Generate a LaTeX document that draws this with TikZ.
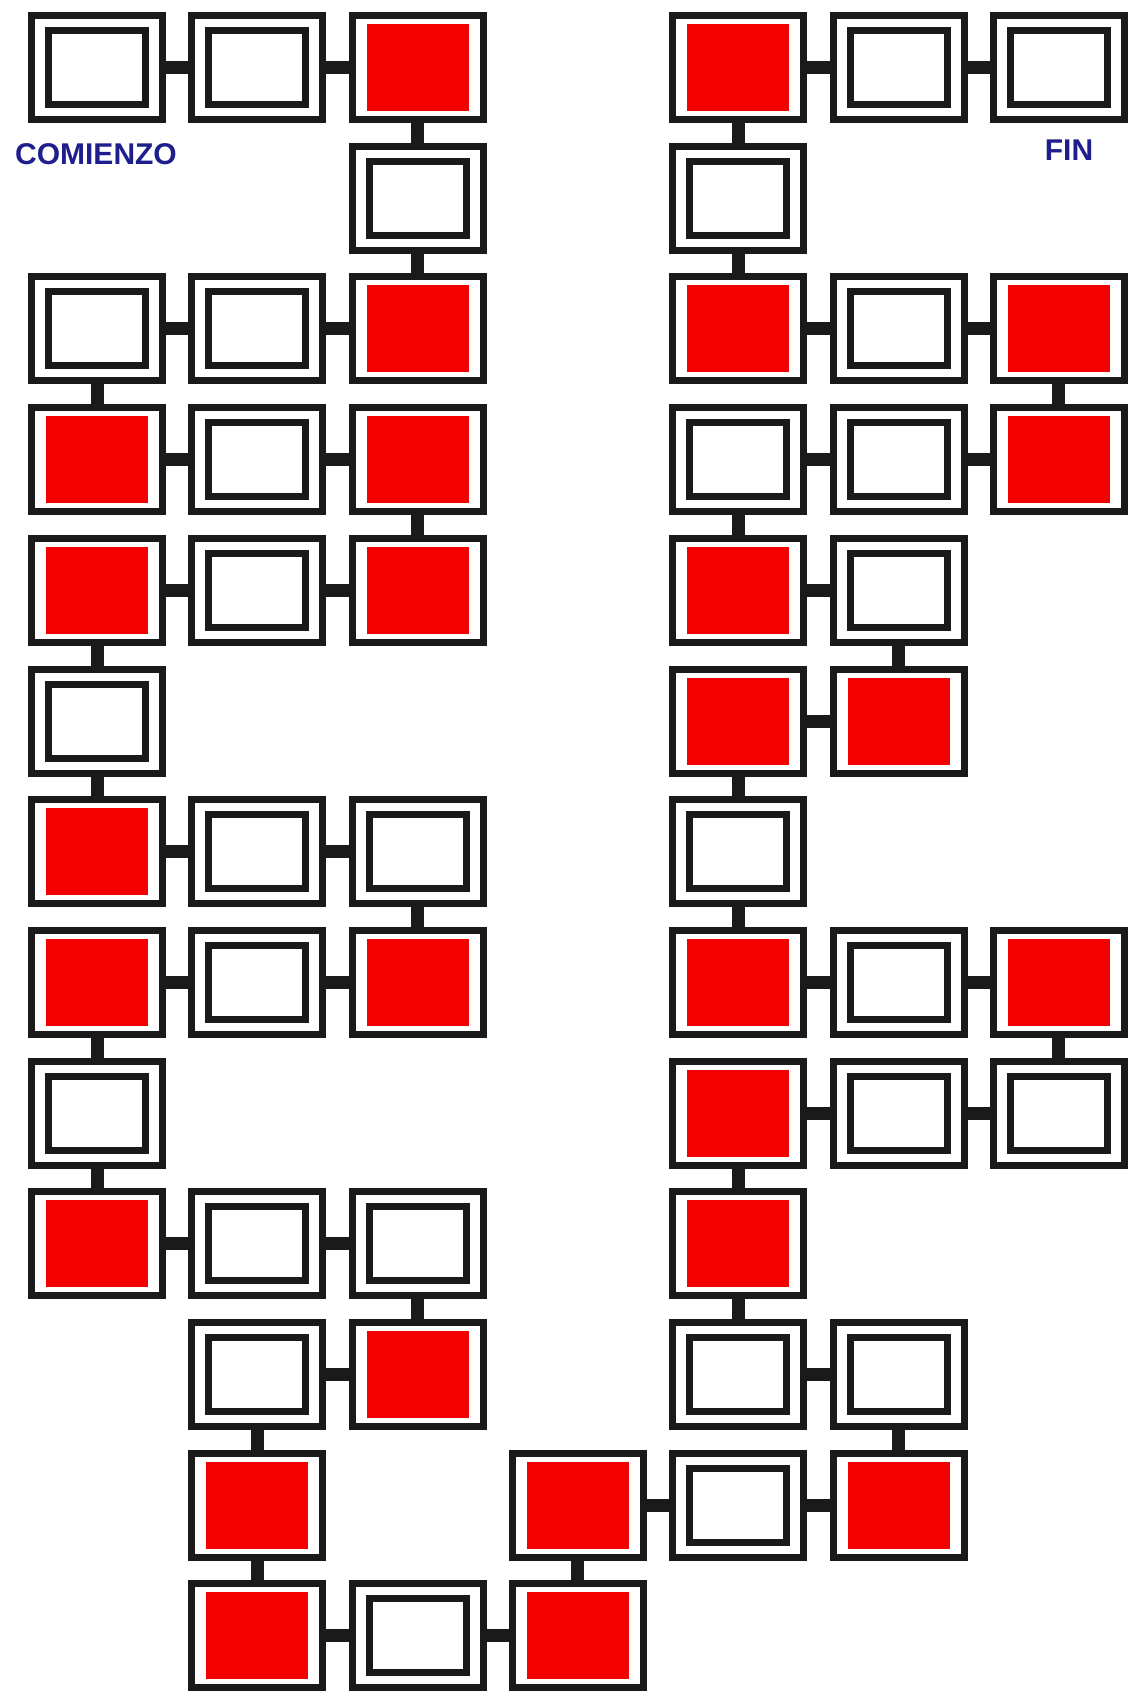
\documentclass[tikz,border=0pt]{standalone}
\usepackage{fontspec}
\setmainfont{Liberation Sans}
\definecolor{frame}{HTML}{1A1A1A}
\definecolor{cellred}{HTML}{F50000}
\definecolor{labelblue}{HTML}{1E1E8C}
\tikzset{
  cell/.style={draw=frame, line width=7pt, minimum width=131pt, minimum height=104pt, inner sep=0pt, fill=white},
  wb/.style={cell, path picture={\draw[frame, line width=7pt] ([xshift=17pt,yshift=15pt]path picture bounding box.south west) rectangle ([xshift=-17pt,yshift=-15pt]path picture bounding box.north east);}},
  rb/.style={cell, path picture={\fill[cellred] ([xshift=14.5pt,yshift=8.5pt]path picture bounding box.south west) rectangle ([xshift=-14.5pt,yshift=-8.5pt]path picture bounding box.north east);}},
  link/.style={draw=frame, line width=13pt},
  lbl/.style={text=labelblue, font=\fontsize{30}{30}\selectfont\bfseries, inner sep=0pt}
}
\begin{document}
\begin{tikzpicture}
\fill[white] (0pt,0pt) rectangle (1128pt,-1697pt);
\useasboundingbox (0pt,0pt) rectangle (1128pt,-1697pt);
\begin{scope}[shift={(97pt,-67.5pt)}, x=160.3pt, y=-130.7pt]
% row 0
\node[wb] (A0) at (0,0) {};
\node[wb] (B0) at (1,0) {};
\node[rb] (C0) at (2,0) {};
\node[rb] (E0) at (4,0) {};
\node[wb] (F0) at (5,0) {};
\node[wb] (G0) at (6,0) {};
% row 1
\node[wb] (C1) at (2,1) {};
\node[wb] (E1) at (4,1) {};
% row 2
\node[wb] (A2) at (0,2) {};
\node[wb] (B2) at (1,2) {};
\node[rb] (C2) at (2,2) {};
\node[rb] (E2) at (4,2) {};
\node[wb] (F2) at (5,2) {};
\node[rb] (G2) at (6,2) {};
% row 3
\node[rb] (A3) at (0,3) {};
\node[wb] (B3) at (1,3) {};
\node[rb] (C3) at (2,3) {};
\node[wb] (E3) at (4,3) {};
\node[wb] (F3) at (5,3) {};
\node[rb] (G3) at (6,3) {};
% row 4
\node[rb] (A4) at (0,4) {};
\node[wb] (B4) at (1,4) {};
\node[rb] (C4) at (2,4) {};
\node[rb] (E4) at (4,4) {};
\node[wb] (F4) at (5,4) {};
% row 5
\node[wb] (A5) at (0,5) {};
\node[rb] (E5) at (4,5) {};
\node[rb] (F5) at (5,5) {};
% row 6
\node[rb] (A6) at (0,6) {};
\node[wb] (B6) at (1,6) {};
\node[wb] (C6) at (2,6) {};
\node[wb] (E6) at (4,6) {};
% row 7
\node[rb] (A7) at (0,7) {};
\node[wb] (B7) at (1,7) {};
\node[rb] (C7) at (2,7) {};
\node[rb] (E7) at (4,7) {};
\node[wb] (F7) at (5,7) {};
\node[rb] (G7) at (6,7) {};
% row 8
\node[wb] (A8) at (0,8) {};
\node[rb] (E8) at (4,8) {};
\node[wb] (F8) at (5,8) {};
\node[wb] (G8) at (6,8) {};
% row 9
\node[rb] (A9) at (0,9) {};
\node[wb] (B9) at (1,9) {};
\node[wb] (C9) at (2,9) {};
\node[rb] (E9) at (4,9) {};
% row 10
\node[wb] (B10) at (1,10) {};
\node[rb] (C10) at (2,10) {};
\node[wb] (E10) at (4,10) {};
\node[wb] (F10) at (5,10) {};
% row 11
\node[rb] (B11) at (1,11) {};
\node[rb] (D11) at (3,11) {};
\node[wb] (E11) at (4,11) {};
\node[rb] (F11) at (5,11) {};
% row 12
\node[rb] (B12) at (1,12) {};
\node[wb] (C12) at (2,12) {};
\node[rb] (D12) at (3,12) {};
\end{scope}
% horizontal links
\foreach \a/\b in {A0/B0,B0/C0,E0/F0,F0/G0,A2/B2,B2/C2,E2/F2,F2/G2,A3/B3,B3/C3,E3/F3,F3/G3,A4/B4,B4/C4,E4/F4,E5/F5,A6/B6,B6/C6,A7/B7,B7/C7,E7/F7,F7/G7,E8/F8,F8/G8,A9/B9,B9/C9,B10/C10,E10/F10,D11/E11,E11/F11,B12/C12,C12/D12}
  \draw[link] (\a.east) -- (\b.west);
% vertical links
\foreach \a/\b in {C0/C1,C1/C2,E0/E1,E1/E2,A2/A3,G2/G3,C3/C4,E3/E4,A4/A5,F4/F5,A5/A6,E5/E6,C6/C7,E6/E7,A7/A8,G7/G8,A8/A9,E8/E9,C9/C10,E9/E10,B10/B11,F10/F11,B11/B12,D11/D12}
  \draw[link] (\a.south) -- (\b.north);
\node[lbl] (start) at (96pt,-154.5pt) {COMIENZO};
\node[lbl] (finish) at (1069pt,-150.5pt) {FIN};
\end{tikzpicture}
\end{document}
